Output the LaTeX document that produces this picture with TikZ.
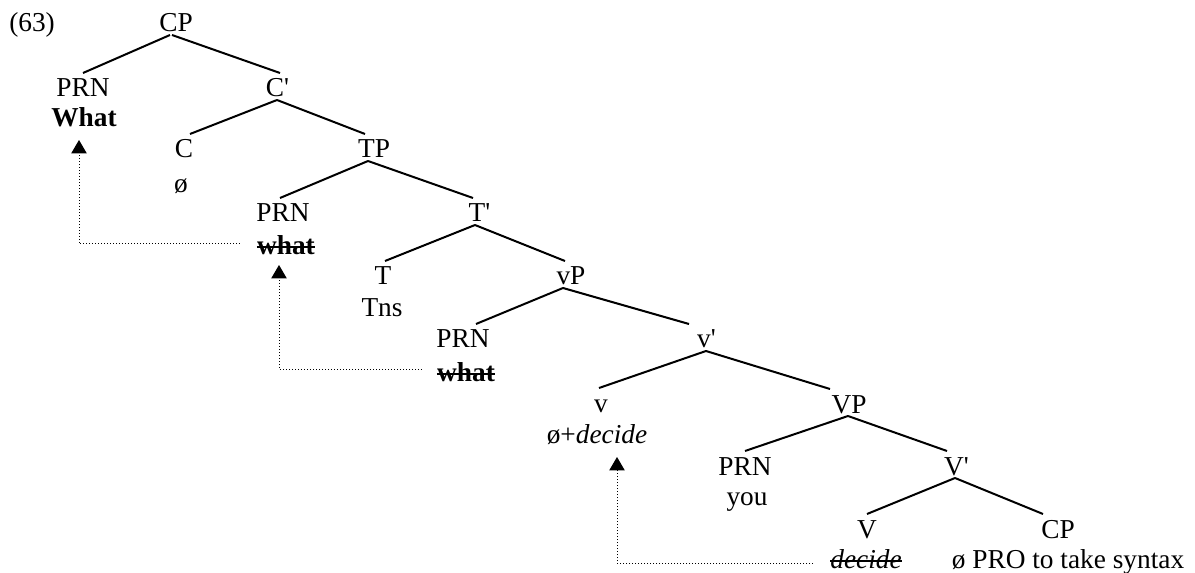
\documentclass[tikz,border=0pt]{standalone}
\usepackage{fontspec}
\setmainfont{Liberation Serif}
\usetikzlibrary{calc,arrows.meta}
\newcommand\lblfont{\fontsize{20.5}{24}\selectfont}
\newcommand\pr{\rlap{\textquotesingle}}
\newcommand\br[4]{\draw[tree] ($(#1.base)+(#2,3)$) -- ($(#3.base)+(#4,-24)$);}
\tikzset{
  lab/.style={anchor=base, inner sep=0pt, font=\lblfont},
  tree/.style={line width=1.5pt},
  strike/.style={line width=1.3pt},
  mv/.style={line width=0.75pt, dash pattern=on 0.75pt off 1.5pt,
    -{Triangle[width=11.5pt,length=10pt]}},
}
\begin{document}
\begin{tikzpicture}[x=0.75pt,y=-0.75pt]
\useasboundingbox (0,0) rectangle (1195,573);
\node[lab,anchor=base west] (n63) at (9,32) {(63)};
\node[lab] (CP) at (176,32) {CP};
\node[lab] (PRN1) at (83,97) {PRN};
\node[lab] (What) at (84,127) {\textbf{What}};
\node[lab] (C1) at (275,97) {C\pr};
\node[lab] (C) at (184,158) {C};
\node[lab] (c0) at (181,193) {ø};
\node[lab] (TP) at (374,158) {TP};
\node[lab] (PRN2) at (283,222) {PRN};
\node[lab] (w2) at (286,255) {\textbf{what}};
\node[lab] (T1) at (477,222) {T\pr};
\node[lab] (T) at (383,285) {T};
\node[lab] (Tns) at (382,317) {Tns};
\node[lab] (vP) at (571,285) {vP};
\node[lab] (PRN3) at (463,348) {PRN};
\node[lab] (w3) at (466,382) {\textbf{what}};
\node[lab] (v1) at (704,348) {v\pr};
\node[lab] (v) at (601,412) {v};
\node[lab] (vd) at (597,443) {ø+\textit{decide}};
\node[lab] (VP) at (849,413) {VP};
\node[lab] (PRN4) at (745,475) {PRN};
\node[lab] (you) at (747,505) {you};
\node[lab] (V1) at (954,475) {V\pr};
\node[lab] (V) at (867,538) {V};
\node[lab] (dec) at (866,568) {\textit{decide}};
\node[lab] (CP2) at (1058,538) {CP};
\node[lab] (cpc) at (1068,568) {ø PRO to take syntax};
% branches
\br{CP}{-6}{PRN1}{0}
\br{CP}{-4}{C1}{5}
\br{C1}{2}{C}{6}
\br{C1}{2}{TP}{-9}
\br{TP}{-6}{PRN2}{-3}
\br{TP}{-6}{T1}{-4}
\br{T1}{-2}{T}{2}
\br{T1}{-2}{vP}{-6}
\br{vP}{-8}{PRN3}{13}
\br{vP}{-8}{v1}{-15}
\br{v1}{2}{v}{-2}
\br{v1}{2}{VP}{-19}
\br{VP}{-1}{PRN4}{0}
\br{VP}{-1}{V1}{-7}
\br{V1}{1}{V}{0}
\br{V1}{1}{CP2}{-15}
% strike-throughs
\draw[strike] ($(w2.base west)+(0,-8)$) -- ($(w2.base east)+(0,-8)$);
\draw[strike] ($(w3.base west)+(0,-8)$) -- ($(w3.base east)+(0,-8)$);
\draw[strike] ($(dec.base west)+(0,-7)$) -- ($(dec.base east)+(0,-7)$);
% movement arrows
\draw[mv] ($(w2.base west)+(-17,-11)$) -| ($(What.base)+(-5,13)$);
\draw[mv] ($(w3.base west)+(-15,-13)$) -| ($(w2.base)+(-7,10)$);
\draw[mv] ($(dec.base west)+(-17,-5)$) -| ($(vd.base)+(20,14)$);
\end{tikzpicture}
\end{document}
